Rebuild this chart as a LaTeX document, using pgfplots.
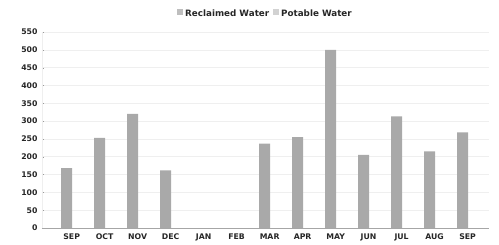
\documentclass[border=0pt]{standalone}
\usepackage{fontspec}
\setmainfont{DejaVu Sans}
\usepackage{pgfplots}
\pgfplotsset{compat=1.18}
\definecolor{barg}{HTML}{A9A9A9}
\definecolor{leg1}{HTML}{BEBEBE}
\definecolor{leg2}{HTML}{D2D2D2}
\definecolor{gridc}{HTML}{EFEFEF}
\begin{document}
\begin{tikzpicture}
\begin{axis}[
  at={(0,0)}, anchor=south west,
  scale only axis, width=447bp, height=196bp,
  xmin=-0.9, xmax=12.65, ymin=0, ymax=550,
  ytick={0,50,...,550},
  xtick={0,...,12},
  xticklabels={SEP,OCT,NOV,DEC,JAN,FEB,MAR,APR,MAY,JUN,JUL,AUG,SEP},
  /pgf/number format/assume math mode=true,
  tick label style={font=\fontsize{7.8}{8}\selectfont\bfseries, text=black!85},
  ymajorgrids, grid style={gridc, line width=0.5pt},
  axis line style={draw=none},
  x axis line style={draw=black!35},
  axis x line*=bottom, axis y line*=left,
  y axis line style={draw=gridc},
  xtick style={draw=none},
  ytick style={draw=black!40},
  major tick length=2bp,
  yticklabel style={xshift=-1bp},
  ybar, bar width=11bp,
  legend style={at={(0.5,1)}, anchor=south, yshift=10bp, draw=none, fill=none,
    legend columns=2, font=\fontsize{8.8}{9}\selectfont\bfseries, text=black!85,
    /tikz/every even column/.append style={column sep=2bp}},
  legend image code/.code={\fill[#1] (0,-0.2ex) rectangle (1.1ex,0.9ex);},
]
\addplot[fill=barg, draw=none, bar shift=-5bp, forget plot] coordinates {
(0,168) (1,253) (2,320) (3,162) (4,0) (5,0) (6,237) (7,255) (8,500) (9,205) (10,313) (11,215) (12,268)};
\addlegendimage{fill=leg1, draw=none}
\addlegendentry{Reclaimed Water}
\addlegendimage{fill=leg2, draw=none}
\addlegendentry{Potable Water}
\end{axis}
\path[use as bounding box] (-42bp,-17bp) rectangle (457bp,228bp);
\end{tikzpicture}
\end{document}
